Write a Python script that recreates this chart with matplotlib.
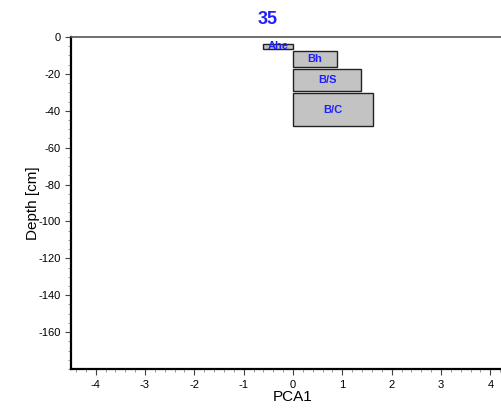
import matplotlib
matplotlib.use("Agg")
import matplotlib.pyplot as plt
from matplotlib.ticker import MultipleLocator

plt.rcParams['font.family'] = ['Liberation Sans', 'DejaVu Sans']
plt.rcParams['axes.unicode_minus'] = False

horizons = ["Ahe", "Bh", "B/S", "B/C"]
top_depth = [-3, -7, -17, -30]
bottom_depth = [-7, -17, -30, -49]
pca1 = [-0.6, 0.89, 1.38, 1.63]
title = "35"

blue = "#1f1fff"

fig = plt.figure(figsize=(5.02, 4.13), dpi=100)
ax = fig.add_axes([71/502, 44/413, 444/502, 332/413])

for name, t, b, v in zip(horizons, top_depth, bottom_depth, pca1):
    left = min(0, v)
    width = abs(v)
    height = t - b
    gap = 1.2
    ax.bar(left, height - gap, width=width, bottom=b + gap/2, align='edge',
           color='#c3c3c3', edgecolor='#222222', linewidth=1.0, zorder=2)
    ax.text(left + width/2, (t + b)/2, name, color=blue, fontsize=8,
            fontweight='bold', ha='center', va='center', zorder=3)

ax.set_xlim(-4.5, 4.5)
ax.set_ylim(-180, 0)
ax.xaxis.set_major_locator(MultipleLocator(1))
ax.xaxis.set_minor_locator(MultipleLocator(0.2))
ax.yaxis.set_minor_locator(MultipleLocator(5))
ax.set_yticks([0, -20, -40, -60, -80, -100, -120, -140, -160])

ax.spines['right'].set_visible(False)
ax.spines['top'].set_color('#555555')
ax.spines['top'].set_linewidth(1.2)
ax.spines['left'].set_linewidth(1.6)
ax.spines['bottom'].set_linewidth(1.6)
ax.tick_params(axis='both', which='major', direction='out', length=4, width=0.8,
               labelsize=8, color='#444444')
ax.tick_params(axis='both', which='minor', direction='out', length=2, width=0.6,
               color='#888888')
ax.tick_params(axis='x', pad=4)

ax.set_xlabel("PCA1", fontsize=11, labelpad=0)
ax.set_ylabel("Depth [cm]", fontsize=11, labelpad=-1)

fig.text(267.5/502, 1 - 19/413, title, color=blue, fontsize=13,
         fontweight='bold', ha='center', va='center')

fig.savefig("out.png", dpi=100)
